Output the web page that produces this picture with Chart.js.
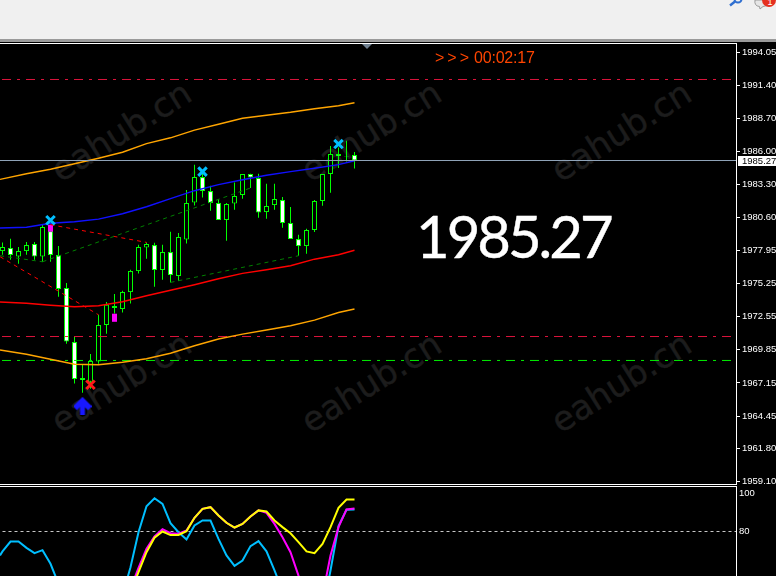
<!DOCTYPE html>
<html>
<head>
<meta charset="utf-8">
<script src="https://cdn.jsdelivr.net/npm/chart.js@4"></script>
<style>
html,body{margin:0;padding:0;background:#000;width:776px;height:576px;overflow:hidden}
#top{position:absolute;left:0;top:0;width:776px;height:39px;background:#f0f0f0}
#topline{position:absolute;left:0;top:39px;width:776px;height:3px;background:#9a9a9a}
.hl{position:absolute;left:0;height:1px;width:737px;background:#fff;z-index:3}
.wm{position:absolute;font:34px "DejaVu Sans",sans-serif;color:#1c1c1c;-webkit-text-stroke:0.5px #1c1c1c;white-space:nowrap;transform:translate(-50%,-50%) rotate(-32deg)}
canvas{position:absolute;left:0;z-index:2}
#tri{position:absolute;left:362px;top:44px;width:0;height:0;border-left:5px solid transparent;border-right:5px solid transparent;border-top:5px solid #708090;z-index:4}
.t{position:absolute;z-index:4;white-space:nowrap;color:#ff4500;font-family:"Liberation Sans",sans-serif}
#big{position:absolute;z-index:4;left:416px;top:201px;color:#fff;font:58px Lato,sans-serif;letter-spacing:-3px;white-space:nowrap;-webkit-text-stroke:0.4px #fff}
#icons{position:absolute;left:720px;top:0;z-index:5}
</style>
</head>
<body>
<div id="top"></div><div id="topline"></div>
<div class="hl" style="top:43px"></div>
<div class="hl" style="top:484px"></div>
<div class="hl" style="top:486px"></div>
<div id="tri"></div>
<div class="wm" style="left:121px;top:131px">eahub.cn</div>
<div class="wm" style="left:371px;top:131px">eahub.cn</div>
<div class="wm" style="left:621px;top:131px">eahub.cn</div>
<div class="wm" style="left:121px;top:382px">eahub.cn</div>
<div class="wm" style="left:371px;top:382px">eahub.cn</div>
<div class="wm" style="left:621px;top:382px">eahub.cn</div>
<div class="t" style="left:435px;top:49px;font-size:16px;letter-spacing:3px">&gt;&gt;&gt;</div>
<div class="t" style="left:474px;top:49px;font-size:16px;letter-spacing:-0.2px">00:02:17</div>
<div id="big">1985.27</div>
<svg id="icons" width="56" height="14" viewBox="0 0 56 14">
  <circle cx="18" cy="-1" r="3.5" fill="none" stroke="#2f6fd0" stroke-width="2"/>
  <line x1="10" y1="5.5" x2="15" y2="1.5" stroke="#2f6fd0" stroke-width="2.4"/>
  <path d="M35 0 H48 Q49 6 43 6.5 L40 9 L39.5 6.5 Q34 6 35 0Z" fill="#e6e6e6" stroke="#9a9a9a"/>
  <circle cx="49" cy="0" r="7" fill="#e53020"/>
  <text x="47.5" y="5" font-size="9" font-family="Liberation Sans" fill="#fff">1</text>
</svg>
<canvas id="main" width="776" height="441" style="top:43px"></canvas>
<canvas id="sto" width="776" height="89" style="top:487px"></canvas>
<script>
const opens  = [1977.89,1978.14,1977.45,1977.89,1978.46,1977.45,1979.52,1977.57,1974.88,1970.48,1967.55,1967.25,1968.90,1971.87,1973.41,1973.17,1974.55,1976.26,1978.19,1978.38,1976.35,1977.81,1975.86,1978.84,1981.85,1983.92,1982.78,1981.81,1980.42,1981.77,1982.46,1984.17,1983.84,1981.07,1981.64,1982.05,1980.18,1978.87,1978.30,1979.61,1981.97,1984.17,1985.80,1985.63,1985.72];
const highs  = [1978.60,1978.90,1978.22,1978.63,1978.63,1980.01,1980.04,1978.30,1975.29,1970.91,1968.66,1969.50,1972.70,1973.74,1974.39,1974.66,1976.37,1978.41,1978.60,1978.57,1978.41,1979.47,1979.36,1982.86,1984.92,1984.27,1983.21,1982.13,1981.81,1983.48,1984.17,1984.19,1984.19,1983.38,1983.38,1982.29,1981.48,1979.22,1979.71,1982.05,1984.17,1986.45,1986.33,1986.88,1985.96];
const lows   = [1977.59,1977.19,1976.86,1977.59,1977.19,1977.02,1977.02,1974.17,1970.34,1967.11,1966.35,1966.68,1968.71,1971.16,1972.81,1972.89,1973.62,1976.07,1977.27,1974.99,1975.56,1975.34,1975.47,1978.51,1981.61,1982.26,1981.18,1980.42,1978.73,1981.26,1982.16,1983.03,1980.61,1980.53,1981.26,1979.79,1978.87,1977.51,1977.67,1979.44,1981.59,1982.64,1984.66,1985.19,1984.62];
const closes = [1978.22,1977.57,1977.89,1978.38,1977.45,1979.85,1977.57,1974.80,1970.53,1967.47,1967.38,1968.93,1971.87,1973.52,1973.25,1974.55,1976.26,1978.22,1978.46,1976.35,1977.81,1975.94,1979.04,1981.81,1983.92,1982.78,1981.81,1980.42,1981.72,1982.38,1984.17,1983.89,1981.04,1981.56,1982.13,1980.18,1978.87,1978.30,1979.61,1981.97,1984.17,1985.80,1985.63,1985.60,1985.27];

const bandIdx   = [-0.3125,3,6,9,12,15,18,21,24,27,30,33,36,39,42,44];
const upperBand = [1983.73,1984.19,1984.56,1985.01,1985.45,1985.94,1986.64,1987.12,1987.74,1988.22,1988.71,1988.96,1989.20,1989.49,1989.73,1989.98];
const blueMA    = [1979.77,1979.83,1980.16,1980.28,1980.49,1980.93,1981.50,1982.16,1982.81,1983.30,1983.70,1984.07,1984.36,1984.64,1984.93,1985.25];
const redMA     = [1973.74,1973.64,1973.48,1973.36,1973.44,1973.76,1974.25,1974.70,1975.15,1975.64,1976.08,1976.37,1976.70,1977.23,1977.59,1977.96];
const lowerBand = [1969.83,1969.49,1969.08,1968.67,1968.63,1968.84,1969.12,1969.57,1970.18,1970.73,1971.13,1971.46,1971.81,1972.27,1972.89,1973.17];

const trendGreen = [[[-0.3,1977.51],[5,1977.02]],[[5,1977.02],[31,1983.03]],[[21,1975.34],[37,1977.51]]];
const trendRed   = [[[6,1980.04],[18,1978.60]],[[-0.3,1977.43],[12,1972.70]]];

const lastPrice = 1985.27;
const levelTop = 1991.87, levelRed = 1970.93, levelGreen = 1968.98;

const crossBlue = [[6,1980.40],[25,1984.36],[42,1986.61]];
const crossRed  = [[11,1967.00]];
const arrowUp   = [[10,1965.29]];
const magentaBoxes = [[6,1979.47,1980.04],[14,1972.13,1972.79]];

const priceTicks = [1994.05,1991.40,1988.70,1986.00,1983.30,1980.60,1977.95,1975.25,1972.55,1969.85,1967.15,1964.45,1961.80,1959.10];
const stoTicks = [100,80];
const stoLevel = 80;

const stoCyanEdge = 67.4;
const stoCyan = [69.5,74.7,74.7,71.4,68.6,70.2,63.0,52.5,40,25,18,15,20,25,30,46.3,61.2,79.6,93.3,97.5,94.5,84.4,79.6,75.8,83.2,85.8,85.8,76.1,67.4,61.9,64.7,72.3,74.9,69.6,59.5,48.9,38,28,20,22,38,59.5,82.8,91.4,91.6];
const stoMagenta = [null,null,null,null,null,null,null,null,null,null,null,null,null,null,null,40,49.8,60.9,70.9,77.4,81.2,79.1,78.8,80.5,87.2,91.9,92.8,88.4,84.6,82.1,84.0,87.9,91.1,89.8,84.0,77.0,69.1,56.8,43.7,35,46,67.4,82.3,91.6,92.1];
const stoYellow = [null,null,null,null,null,null,null,null,null,null,null,null,null,null,null,38,48.1,58.6,69.1,76.7,80,78.1,78.2,80.2,87.2,91.9,92.8,88.4,84.6,82.1,84,87.9,91.1,90.5,85.8,82.3,79.1,74.4,69.5,68.6,73.5,82.3,92.5,96.8,96.8];

const GREEN = '#00ff00', AXIS_FONT = {family:'"Liberation Sans"', size:9.5};
const xMin = -0.3125, xMax = 91.6875, xEdgeL = -0.06;

function xy(a){return a.map(p=>({x:p[0],y:p[1]}));}
function band(v){return bandIdx.map((x,k)=>({x,y:v[k]}));}
function lineDs(data,color,extra){return Object.assign({type:'line',data,borderColor:color,borderWidth:1.4,pointRadius:0,tension:0,order:5,parsing:{xAxisKey:'x',yAxisKey:'y'},spanGaps:false},extra||{});}
function level(v,color,dash){return lineDs([{x:xEdgeL,y:v},{x:xMax,y:v}],color,{borderWidth:1,borderDash:dash,order:6});}

const arrowImg = document.createElement('canvas');
arrowImg.width = 18; arrowImg.height = 18;
(function(){
  const c = arrowImg.getContext('2d');
  c.strokeStyle = '#1818ff'; c.lineWidth = 5.5; c.lineJoin = 'miter';
  c.beginPath(); c.moveTo(1.5,11.5); c.lineTo(9,4); c.lineTo(16.5,11.5); c.stroke();
  c.lineWidth = 5; c.beginPath(); c.moveTo(9,4); c.lineTo(9,18); c.stroke();
})();

const datasets = [
  {type:'bar',grouped:false,order:9,barThickness:1,backgroundColor:GREEN,inflateAmount:0,
   data:highs.map((h,i)=>({x:i,y:[lows[i],h]}))},
  {type:'bar',grouped:false,order:8,barThickness:5,borderColor:GREEN,borderWidth:1,borderSkipped:false,inflateAmount:0,
   backgroundColor:closes.map((c,i)=>c<opens[i]?'#ffffff':'#000000'),
   data:opens.map((o,i)=>({x:i,y:[o,closes[i]]}))},
  {type:'bar',grouped:false,order:7,barThickness:5,backgroundColor:'#ff00ff',inflateAmount:0,
   data:magentaBoxes.map(b=>({x:b[0],y:[b[1],b[2]]}))},
  lineDs(band(upperBand),'#ffa500'),
  lineDs(band(blueMA),'#1010ff'),
  lineDs(band(redMA),'#ff0000'),
  lineDs(band(lowerBand),'#ffa500'),
  level(levelTop,'#dc143c',[9,6,3,6]),
  level(levelRed,'#dc143c',[9,6,3,6]),
  level(levelGreen,'#00ee00',[9,6,3,6]),
  lineDs([{x:xMin,y:lastPrice},{x:xMax,y:lastPrice}],'#8fa3b8',{borderWidth:1,order:4}),
];
trendGreen.forEach(t=>datasets.push(lineDs(xy(t),'#008000',{borderWidth:1,borderDash:[4,4],order:6})));
trendRed.forEach(t=>datasets.push(lineDs(xy(t),'#ff0000',{borderWidth:1,borderDash:[4,4],order:6})));
datasets.push(lineDs(xy(crossBlue),'#00bfff',{showLine:false,pointStyle:'crossRot',pointRadius:6,pointBorderWidth:3,pointBorderColor:'#00bfff',order:1}));
datasets.push(lineDs(xy(crossRed),'#ff1a1a',{showLine:false,pointStyle:'crossRot',pointRadius:6,pointBorderWidth:3,pointBorderColor:'#ff1a1a',order:1}));
datasets.push(lineDs(xy(arrowUp),'#1818ff',{showLine:false,pointStyle:arrowImg,pointRadius:9,order:1}));

const priceBox = {id:'priceBox',afterDraw(ch){
  const s = ch.scales.y, y = s.getPixelForValue(lastPrice), c = ch.ctx;
  c.save();
  c.fillStyle = '#fff';
  c.fillRect(738,Math.round(y)-5,38,10);
  c.fillStyle = '#000';
  c.font = '9.5px "Liberation Sans"';
  c.textBaseline = 'middle';
  c.fillText(lastPrice.toFixed(2),742,Math.round(y));
  c.restore();
}};

function axisOpts(min,max,ticksList,fmt,pad,tl){
  return {
    position:'right',min,max,
    afterFit(s){s.width=40;s.paddingTop=0;s.paddingBottom=0;},
    afterBuildTicks(s){s.ticks=ticksList.map(v=>({value:v}));},
    border:{display:true,color:'#ffffff',width:1},
    grid:{drawOnChartArea:false,drawTicks:tl>0,tickLength:tl,color:'#ffffff',tickWidth:1},
    ticks:{color:'#ffffff',font:AXIS_FONT,padding:pad,autoSkip:false,maxRotation:0,callback:fmt}
  };
}
const baseOpts = {responsive:false,animation:false,events:[],layout:{padding:0,autoPadding:false},
  plugins:{legend:{display:false},tooltip:{enabled:false}}};

new Chart(document.getElementById('main'),{
  data:{datasets},
  plugins:[priceBox],
  options:Object.assign({},baseOpts,{scales:{
    x:{type:'linear',min:xMin,max:xMax,display:false,offset:false},
    y:axisOpts(1958.916,1994.843,priceTicks,v=>Number(v).toFixed(2),2,4)
  }})
});

function stoSeries(v,color,order,first){
  const pts = v.map((y,i)=>({x:i,y}));
  if(first!==undefined) pts.unshift({x:xMin,y:first});
  return lineDs(pts,color,{borderWidth:2,order});
}
new Chart(document.getElementById('sto'),{
  data:{datasets:[
    lineDs([{x:0,y:stoLevel},{x:xMax,y:stoLevel}],'#c8c8c8',{borderWidth:1,borderDash:[3,3],order:8}),
    stoSeries(stoCyan,'#00bfff',3,stoCyanEdge),
    stoSeries(stoMagenta,'#ff00ff',2),
    stoSeries(stoYellow,'#ffff00',1)
  ]},
  options:Object.assign({},baseOpts,{scales:{
    x:{type:'linear',min:xMin,max:xMax,display:false,offset:false},
    y:axisOpts(56.58,103.42,stoTicks,v=>String(v),3,0)
  }})
});
</script>
</body>
</html>
